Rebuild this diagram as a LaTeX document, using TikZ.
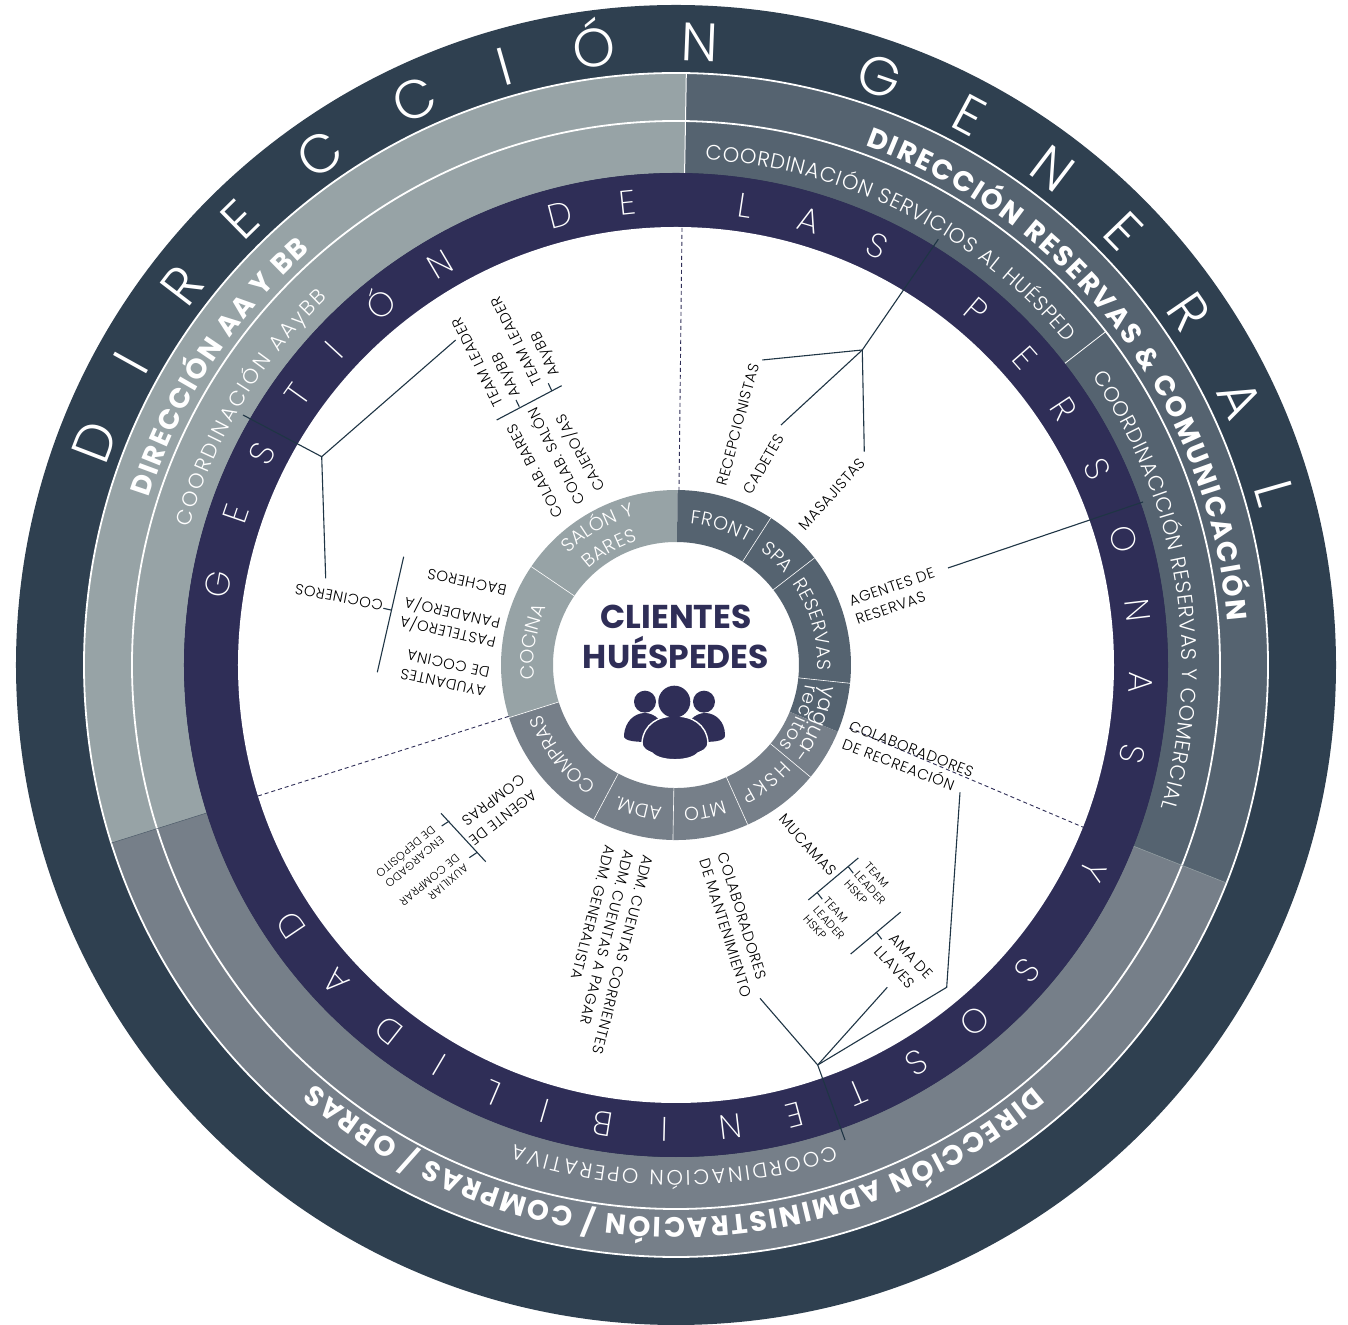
\documentclass[tikz,border=0pt]{standalone}
\usepackage{fontspec}
\setmainfont{Poppins}
\newfontfamily\thinfont{Poppins ExtraLight}
\newfontfamily\lightfont{Poppins Light}
\newfontfamily\labfont[LetterSpace=4]{Poppins Light}
\usetikzlibrary{decorations.text}
\definecolor{ringdark}{HTML}{2F4050}
\definecolor{ringslate}{HTML}{556370}
\definecolor{ringlight}{HTML}{97A3A6}
\definecolor{ringgray}{HTML}{767F89}
\definecolor{ringpurple}{HTML}{2F2E57}
\definecolor{linedark}{HTML}{1F3545}
\newcommand{\boldband}{\fontsize{14}{14}\selectfont\bfseries\color{white}}
\newcommand{\lightband}{\lightfont\fontsize{10.5}{10.5}\selectfont\color{white}}
\newcommand{\wheeltext}{\lightfont\fontsize{9.5}{9.5}\selectfont\color{white}}
\newcommand{\yaguatext}{\lightfont\fontsize{10.5}{10.5}\selectfont\color{white}}
\newcommand{\arclabel}[5]{\path[decorate,decoration={text along path,text align={fit to path},text={|#1|#5}}] (#3:#2) arc[start angle=#3,end angle=#4,radius=#2];}
\tikzset{
 bigletter/.style={font=\lightfont\fontsize{27}{27}\selectfont,text=white,anchor=base,inner sep=0},
 midletter/.style={font=\thinfont\fontsize{17}{17}\selectfont,text=white,anchor=base,inner sep=0},
 lab/.style={font=\labfont\fontsize{7.4}{9.8}\selectfont,text=black,align=left,inner sep=0},
 smalllab/.style={font=\labfont\fontsize{5.6}{6.8}\selectfont,text=black,align=left,inner sep=0},
 branch/.style={draw=linedark,line width=.55pt},
 spoke/.style={draw=ringpurple,line width=.45pt,dash pattern=on 2pt off 1.5pt},
 sep/.style={draw=white,line width=.25pt},
}
\begin{document}
\begin{tikzpicture}[x=.5pt,y=.5pt]
\useasboundingbox (-676,-660) rectangle (672,665);
\fill[ringdark] (0,0) circle (660);
% the three big sectors
\foreach \col/\a/\b in {ringlight/89/197.5,ringslate/-21.6/89,ringgray/197.5/338.4} {
 \fill[\col] (\a:492) -- (\a:592) arc[start angle=\a,end angle=\b,radius=592] -- (\b:492) arc[start angle=\b,end angle=\a,radius=492] -- cycle;
}
\draw[draw=white,line width=.9pt] (0,0) circle (592);
\draw[draw=white,line width=.9pt] (0,0) circle (544);
\draw[sep,line width=.5pt] (89:492)--(89:592);
\draw[sep,draw=ringslate] (197.5:492)--(197.5:592);
\draw[sep,draw=ringlight] (-21.6:492)--(-21.6:592);
\draw[sep,line width=.4pt] (37.8:492)--(37.8:544);
\fill[ringpurple] (0,0) circle (492);
\fill[white] (0,0) circle (438);
% letters of the outer ring
\foreach \ch/\a [count=\n] in {D/159,I/151,R/142.5,E/134.4,C/124.9,C/114.8,I/106,Ó/97.6,N/87.8,G/70.9,E/61.9,N/52.8,E/44.1,R/34.5,A/25.2,L/16} {
 \node[bigletter,rotate=\a-90] (gen\n) at (\a:604) {\ch};
}
\foreach \ch/\a [count=\n] in {G/170,E/161,S/153,T/144.5,I/137.3,Ó/129.3,N/120.5,D/104.4,E/96,L/81.4,A/73.3,S/64.4,P/49.7,E/41.4,R/33.4,S/24.9,O/15.7,N/6.8,A/-2.2,S/-11,Y/-26.3,S/-41,O/-50,S/-58.8,T/-67,E/-75.3,N/-83.3,I/-91.4,B/-99,I/-106.4,L/-113.2,I/-120.6,D/-128.2,A/-137.1,D/-146} {
 \node[midletter,rotate=\a-90] (ges\n) at (\a:453) {\ch};
}
% band texts
\arclabel{\boldband}{553}{70}{4.6}{DIRECCIÓN RESERVAS {\&} COMUNICACIÓN}
\arclabel{\boldband}{553}{162.4}{131.4}{DIRECCIÓN AA Y BB}
\arclabel{\boldband}{553}{-49.7}{-130.8}{DIRECCIÓN ADMINISTRACIÓN / COMPRAS / OBRAS}
\arclabel{\lightband}{506}{86.7}{39.6}{COORDINACIÓN SERVICIOS AL HUÉSPED}
\arclabel{\lightband}{506}{34.7}{-16.4}{COORDINACICIÓN RESERVAS Y COMERCIAL}
\arclabel{\lightband}{506}{164.2}{133.5}{COORDINACIÓN AAyBB}
\arclabel{\lightband}{506}{-71.7}{-108.6}{COORDINACIÓN OPERATIVA}
% inner wheel
\foreach \col/\a/\b in {ringlight/89.5/197.5,ringslate/-22.4/89.5,ringgray/197.5/337.6} {
 \fill[\col] (\a:123) -- (\a:175) arc[start angle=\a,end angle=\b,radius=175] -- (\b:123) arc[start angle=\b,end angle=\a,radius=123] -- cycle;
}
\foreach \a in {57.2,37.7,-6,-39.8,-65.8,-91,-118,197.5,145.8} {
 \draw[sep,line width=.3pt] (\a:123)--(\a:175);
}
\arclabel{\wheeltext}{142}{84.3}{59.6}{FRONT}
\arclabel{\wheeltext}{142}{53.5}{41}{SPA}
\arclabel{\wheeltext}{142}{35}{-2}{RESERVAS}
\arclabel{\yaguatext}{148}{-8}{-38}{yagua-}
\arclabel{\wheeltext}{131}{-8.5}{-38}{recitos}
\arclabel{\wheeltext}{143}{-42}{-63}{HSKP}
\arclabel{\wheeltext}{143}{-70.6}{-85.3}{MTO}
\arclabel{\wheeltext}{143}{-95.5}{-114}{ADM.}
\arclabel{\wheeltext}{143}{-123.6}{-158.4}{COMPRAS}
\arclabel{\wheeltext}{142}{185.8}{156}{COCINA}
\arclabel{\wheeltext}{155}{134}{105.5}{SALÓN Y}
\arclabel{\wheeltext}{130}{132.3}{107.3}{BARES}
\begin{scope}[xshift=-338pt,yshift=332.5pt,x=.5pt,y=-.5pt]
% centre
\node[font=\fontsize{16.5}{20}\selectfont\bfseries,text=ringpurple,align=center,inner sep=0] (clientes) at (676,637) {CLIENTES\\HUÉSPEDES};
\fill[ringpurple] (624,735) .. controls (625,722) and (634,713) .. (645,713) .. controls (655,713) and (664,722) .. (667,735) -- (650,742) .. controls (640,742) and (622,742) .. (624,735) -- cycle;
\fill[ringpurple] (683,735) .. controls (686,722) and (695,713) .. (705,713) .. controls (716,713) and (725,722) .. (725,735) .. controls (726,742) and (710,742) .. (700,742) -- cycle;
\fill[ringpurple] (645,701.7) circle (11);
\fill[ringpurple] (704,701.7) circle (11);
\filldraw[fill=ringpurple,draw=white,line width=.7pt] (642,742) .. controls (644,724) and (658,716) .. (675,716) .. controls (692,716) and (706,724) .. (708,742) .. controls (708,750) and (702,751) .. (698,753) .. controls (690,762) and (660,762) .. (652,753) .. controls (648,751) and (642,750) .. (642,742) -- cycle;
\fill[ringpurple] (674.3,701.7) circle (16);
% dashed spokes
\coordinate (dtopa) at (682,228);
\coordinate (dtopb) at (679,490);
\coordinate (drighta) at (1085,828);
\coordinate (drightb) at (847,727);
\coordinate (dlefta) at (258,796);
\coordinate (dleftb) at (510,716);
\draw[spoke] (dtopa)--(dtopb);
\draw[spoke] (drighta)--(drightb);
\draw[spoke] (dlefta)--(dleftb);
% front, spa
\coordinate (hubfront) at (862.3,350);
\coordinate (ringfront) at (938.3,239.3);
\coordinate (recep) at (762.3,360);
\coordinate (cad) at (781,425);
\coordinate (masa) at (864.3,451.7);
\draw[branch] (ringfront)--(hubfront);
\foreach \e in {recep,cad,masa} {
 \draw[branch] (hubfront)--(\e);
}
\coordinate (agenta) at (948,568);
\coordinate (agentb) at (1143,502);
\draw[branch] (agenta)--(agentb);
\node[lab,rotate=75] (lrecep) at (738,425) {RECEPCIONISTAS};
\node[lab,rotate=60] (lcad) at (764,464) {CADETES};
\node[lab,rotate=48] (lmasa) at (832,494) {MASAJISTAS};
\node[lab,rotate=19] (lagent) at (895,596) {AGENTES DE\\RESERVAS};
\node[lab,rotate=-21] (lrecre) at (908,758) {COLABORADORES\\DE RECREACIÓN};
% hskp, mto
\coordinate (hubhskp) at (817.7,1065);
\coordinate (ringhskp) at (845,1140);
\coordinate (mant) at (760,998.3);
\coordinate (llave) at (887.3,987.3);
\coordinate (kneea) at (946.7,987.3);
\coordinate (kneeb) at (960,792.3);
\draw[branch] (ringhskp)--(hubhskp)--(mant);
\draw[branch] (hubhskp)--(llave);
\draw[branch] (hubhskp)--(kneea)--(kneeb);
\foreach \a/\b in {808.3/900,850.7/954} {
 \draw[branch] (\a,\b)--++(50,-42);
}
\foreach \a/\b in {817.3/892.7,848.3/866.7,876.7/932.7} {
 \draw[branch] (\a,\b)--++(5,6.5);
}
\node[lab,rotate=-48] (lmuca) at (808,845) {MUCAMAS};
\node[smalllab,rotate=-48] (lteama) at (870,888) {TEAM\\LEADER\\HSKP};
\node[smalllab,rotate=-48] (lteamb) at (829,923) {TEAM\\LEADER\\HSKP};
\node[lab,rotate=-47] (lama) at (904,963) {AMA DE\\LLAVES};
\node[lab,rotate=-72.5] (lmant) at (735,925) {COLABORADORES\\DE MANTENIMIENTO};
% adm, compras
\node[lab,rotate=-104.4] (ladm) at (604,950) {ADM. CUENTAS CORRIENTES\\ADM. CUENTAS A PAGAR\\ADM. GENERALISTA};
\node[lab,rotate=-142.6] (lcomp) at (497,810) {AGENTE DE\\COMPRAS};
\node[smalllab,rotate=-140] (lenc) at (410,857) {ENCARGADO\\DE DEPÓSITO};
\node[smalllab,rotate=-140] (laux) at (434,885) {AUXILIAR\\DE COMPRAR};
\coordinate (bara) at (441,813.3);
\coordinate (barb) at (485.7,861.7);
\draw[branch] (bara)--(barb);
\draw[branch] (441.7,826)--(449.3,821);
\draw[branch] (469.3,857.7)--(477.3,852.3);
% cocina
\coordinate (hubcoc) at (321.7,456.7);
\coordinate (ringcoc) at (243,415);
\coordinate (tleader) at (455.7,340);
\coordinate (cocin) at (325.7,578.3);
\draw[branch] (ringcoc)--(hubcoc)--(tleader);
\draw[branch] (hubcoc)--(cocin);
\draw[branch] (403.7,556.7)--(377.3,672.3);
\draw[branch] (383.3,608.3)--(391,610);
\node[lab,rotate=169] (lcoci) at (339,597) {COCINEROS};
\node[lab,rotate=168] (lbach) at (467,582) {BACHEROS};
\node[lab,rotate=167] (lpast) at (450,623) {PASTELERO/A\\PANADERO/A};
\node[lab,rotate=168] (lcoc) at (445,673) {AYUDANTES\\DE COCINA};
% salon
\draw[branch] (496.7,420)--(561.7,385.7);
\draw[branch] (516,400)--(519.3,406.7);
\draw[branch] (548.3,383.3)--(551.7,390.7);
\node[lab,rotate=118] (lbar) at (535,471) {COLAB. BARES};
\node[lab,rotate=117] (lsal) at (555,457) {COLAB. SALÓN};
\node[lab,rotate=119] (lcaj) at (580,453) {CAJERO/AS};
\node[lab,rotate=116] (ltla) at (488,357) {TEAM LEADER\\AAyBB};
\node[lab,rotate=116] (ltlb) at (527,336) {TEAM LEADER\\AAyBB};
\end{scope}
\end{tikzpicture}
\end{document}
